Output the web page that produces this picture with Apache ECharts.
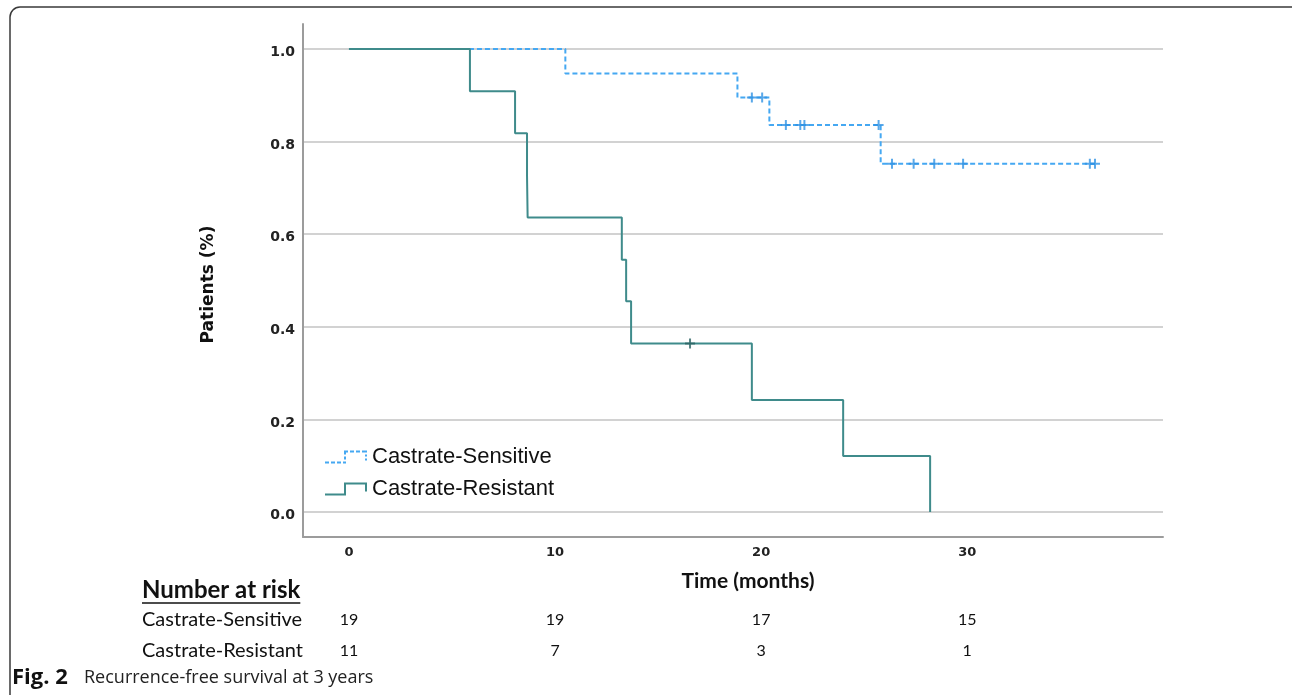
<!DOCTYPE html>
<html><head><meta charset="utf-8">
<script src="https://cdn.jsdelivr.net/npm/echarts@6/dist/echarts.min.js"></script>
<style>html,body{margin:0;padding:0;background:#fff}#c{width:1292px;height:695px}</style>
</head><body><div id="c"></div>
<script>
// ---- data ----
const seriesNames = ['Castrate-Sensitive', 'Castrate-Resistant'];
const sensitiveSteps = [[0, 1.0], [10.5, 0.947], [18.85, 0.895], [20.4, 0.836], [25.8, 0.752], [36.35, 0.752]];
const sensitiveCensored = [[19.55, 0.895], [20.05, 0.895], [21.2, 0.836], [21.9, 0.836], [22.1, 0.836], [25.7, 0.836],
  [26.35, 0.752], [27.4, 0.752], [28.4, 0.752], [29.8, 0.752], [35.95, 0.752], [36.2, 0.752]];
const resistantSteps = [[0, 1.0], [5.87, 0.909], [8.06, 0.818], [8.64, 0.727], [8.67, 0.636], [13.24, 0.545],
  [13.45, 0.455], [13.69, 0.364], [19.55, 0.242], [23.98, 0.121], [28.2, 0.0]];
const resistantCensored = [[16.55, 0.364]];
const xTicks = [0, 10, 20, 30];
const yTicks = [0, 0.2, 0.4, 0.6, 0.8, 1.0];
const riskTimes = [0, 10, 20, 30];
const riskSensitive = [19, 19, 17, 15];
const riskResistant = [11, 7, 3, 1];
const riskTitle = 'Number at risk';
const xName = 'Time (months)';
const yName = 'Patients (%)';
const captionBold = 'Fig. 2';
const captionText = 'Recurrence-free survival at 3 years';

// ---- styling ----
const blue = '#45a8f2', blueMark = '#2f92e4';
const teal = '#3f8b8b', tealMark = '#2b6262';
const cross = 'path://M4,0h2v10h-2zM0,4h10v2h-10z';
const iconSolid = 'path://M0,11L19,11L19,0L42,0L42,9L40,9L40,2L21,2L21,13L0,13Z';
const iconDashed = 'path://M0,11h4v2h-4zM6,11h4v2h-4zM12,11h4v2h-4zM18,11h3v2h-3zM19,6h2v3h-2zM19,0h4v2h-2v2h-2zM25,0h4v2h-4zM31,0h4v2h-4zM37,0h5v2h-5zM40,4h2v2h-2zM40,8h2v2h-2z';

const chart = echarts.init(document.getElementById('c'), null, {renderer: 'canvas'});
const option = {
  animation: false,
  backgroundColor: '#fff',
  grid: {left: 303, top: 24, width: 860, height: 513, containLabel: false},
  xAxis: {
    type: 'value', min: -2.23, max: 39.5,
    axisLine: {show: true, onZero: false, lineStyle: {color: '#9c9c9c', width: 2}},
    axisTick: {show: false},
    splitLine: {show: false},
    axisLabel: {customValues: xTicks, margin: 9, fontFamily: 'DejaVu Sans', fontWeight: 'bold', fontSize: 13, color: '#222'},
    name: xName, nameLocation: 'middle', nameGap: 34,
    nameTextStyle: {fontFamily: 'Lato', fontWeight: 'bold', fontSize: 21, color: '#111', padding: [0, 0, 0, 30]}
  },
  yAxis: {
    type: 'value', min: -0.054, max: 1.054,
    axisLine: {show: true, onZero: false, lineStyle: {color: '#9c9c9c', width: 2}},
    axisTick: {show: false},
    splitLine: {show: true, showMinLine: false, showMaxLine: false, lineStyle: {color: '#d2d2d2', width: 2}},
    axisLabel: {customValues: yTicks, formatter: v => v.toFixed(1), margin: 8, verticalAlign: 'top', lineHeight: 7,
      fontFamily: 'DejaVu Sans', fontWeight: 'bold', fontSize: 14, color: '#222'},
    name: yName, nameLocation: 'middle', nameRotate: 90, nameGap: 86,
    nameTextStyle: {fontFamily: 'DejaVu Sans', fontWeight: 'bold', fontSize: 17, color: '#111', padding: [0, 8, 0, 0]}
  },
  legend: {
    orient: 'vertical', left: 325, top: 445, padding: 0, itemWidth: 42, itemHeight: 13, itemGap: 8,
    itemStyle: {borderWidth: 0},
    textStyle: {fontFamily: 'Liberation Sans', fontSize: 22, color: '#111', lineHeight: 24},
    data: [{name: seriesNames[0], icon: iconDashed}, {name: seriesNames[1], icon: iconSolid}]
  },
  series: [
    {name: seriesNames[0], type: 'line', step: 'end', data: sensitiveSteps, showSymbol: false, symbol: 'none',
      color: blue, lineStyle: {width: 2, type: [5, 3], color: blue}, z: 2, silent: true},
    {name: seriesNames[0] + ' censored', type: 'scatter', data: sensitiveCensored, symbol: cross, symbolSize: 10,
      itemStyle: {color: blueMark}, z: 3, silent: true},
    {name: seriesNames[1], type: 'line', step: 'end', data: resistantSteps, showSymbol: false, symbol: 'none',
      color: teal, lineStyle: {width: 2, color: teal}, z: 4, silent: true},
    {name: seriesNames[1] + ' censored', type: 'scatter', data: resistantCensored, symbol: cross, symbolSize: 10,
      itemStyle: {color: tealMark}, z: 5, silent: true}
  ]
};
chart.setOption(option);

// ---- number-at-risk table, caption and frame ----
const measure = (txt, font) => { const c = document.createElement('canvas').getContext('2d'); c.font = font; return c.measureText(txt).width; };
const rowFont = '20px Lato';
const numFont = '16px Lato';
const titleFont = 'bold 24px Lato';
const txt = (x, y, text, font, align, fill) => ({type: 'text', x: x, y: y, silent: true,
  style: {text: text, font: font, fill: fill || '#111', textAlign: align, textVerticalAlign: 'middle', align: align, verticalAlign: 'middle'}});
const g = [];
g.push({type: 'rect', shape: {x: 10, y: 7, width: 1300, height: 720, r: 10}, style: {fill: 'none', stroke: '#3a3a3a', lineWidth: 1.5}, silent: true});
const titleW = measure(riskTitle, titleFont);
g.push(txt(142, 590, riskTitle, titleFont, 'left'));
g.push({type: 'line', shape: {x1: 142, y1: 603, x2: 142 + titleW, y2: 603}, style: {stroke: '#111', lineWidth: 1.5}, silent: true});
const rows = [[seriesNames[0], riskSensitive, 620], [seriesNames[1], riskResistant, 651]];
rows.forEach(([label, vals, y]) => {
  g.push(txt(142, y, label, rowFont, 'left'));
  vals.forEach((v, i) => {
    const px = chart.convertToPixel({xAxisIndex: 0}, riskTimes[i]);
    g.push(txt(px, y, String(v), numFont, 'center'));
  });
});
g.push(txt(12, 678, captionBold, 'bold 22px "Open Sans"', 'left'));
g.push(txt(84, 678, captionText, '18px "Open Sans"', 'left', '#222'));
chart.setOption({graphic: {elements: g}});
</script></body></html>
